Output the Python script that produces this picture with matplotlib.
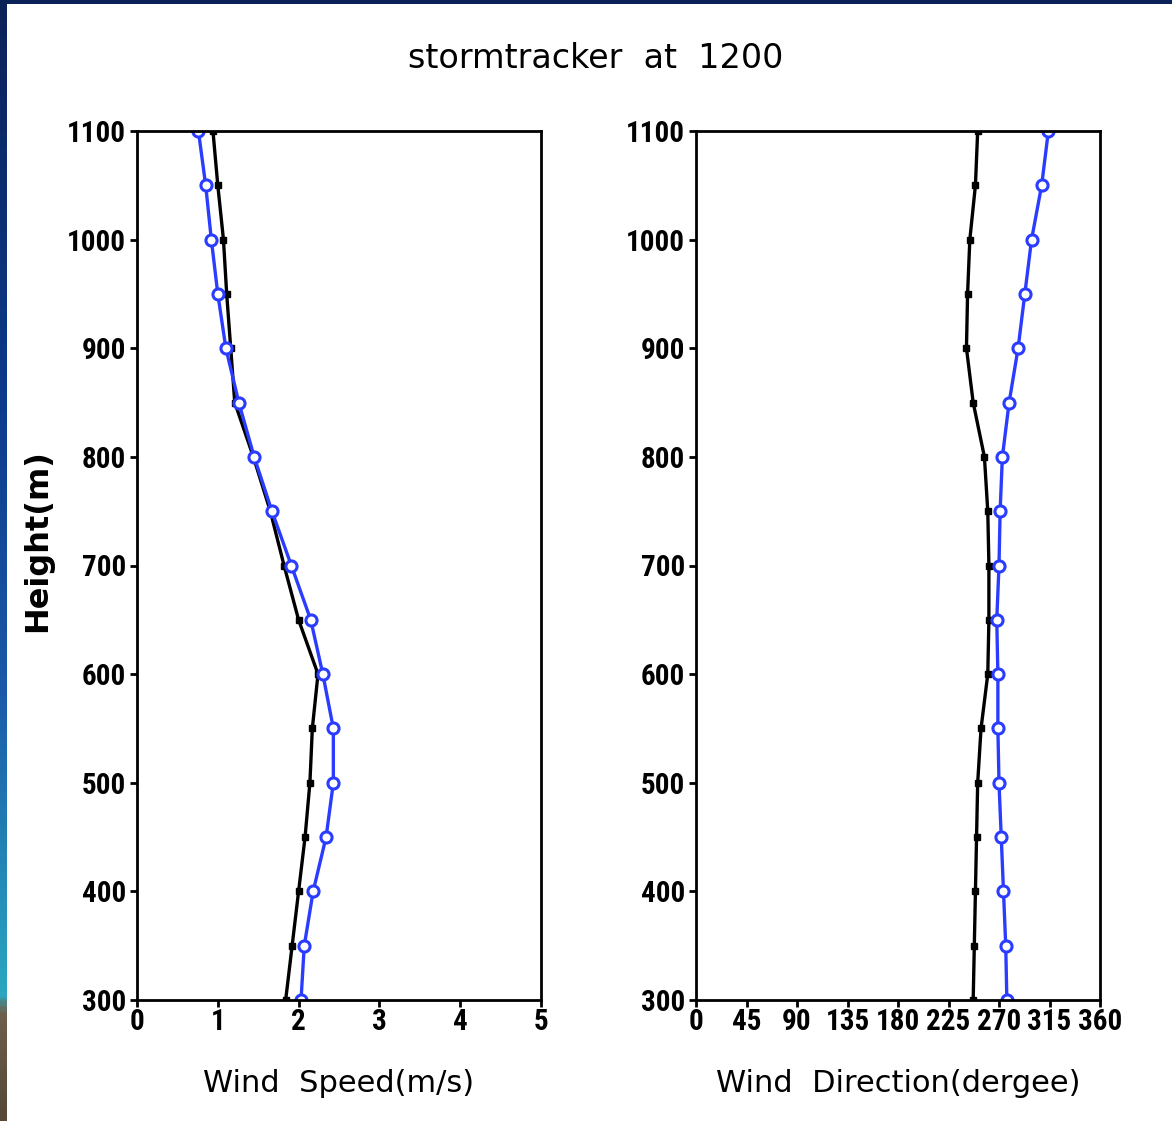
import numpy as np
import matplotlib
matplotlib.use("Agg")
import matplotlib.pyplot as plt
from matplotlib import font_manager
from matplotlib.colors import LinearSegmentedColormap

# heights (m) of the profile levels
heights = [300, 350, 400, 450, 500, 550, 600, 650, 700, 750, 800, 850, 900, 950, 1000, 1050, 1100]

# wind speed (m/s)
speed_black = [1.84, 1.92, 2.00, 2.08, 2.14, 2.17, 2.24, 2.00, 1.82, 1.65, 1.44, 1.21, 1.16, 1.11, 1.07, 1.00, 0.94]
speed_blue = [2.03, 2.07, 2.18, 2.34, 2.43, 2.43, 2.30, 2.15, 1.91, 1.67, 1.45, 1.26, 1.10, 1.00, 0.92, 0.85, 0.76]

# wind direction (degree)
dir_black = [247, 248, 249, 250, 251, 254, 260, 261, 261, 260, 257, 247, 241, 242, 244, 249, 251]
dir_blue = [277, 276, 274, 272, 270, 269, 269, 268, 270, 271, 273, 279, 287, 293, 299, 308, 314]

speed_ticks = [0, 1, 2, 3, 4, 5]
dir_ticks = [0, 45, 90, 135, 180, 225, 270, 315, 360]
height_ticks = [300, 400, 500, 600, 700, 800, 900, 1000, 1100]

# a narrow face suits the tall, tight tick labels of the original
names = {f.name for f in font_manager.fontManager.ttflist}
narrow = None
for cand in ["Roboto Condensed", "Liberation Sans Narrow", "Open Sans Condensed", "Arial Narrow"]:
    if cand in names:
        narrow = cand
        break
if narrow is None:
    narrow = "DejaVu Sans"
    tick_size = 16
else:
    tick_size = 21
label_font = ["DejaVu Sans"]

W, H = 1172, 1121
fig = plt.figure(figsize=(W / 100, H / 100), dpi=100)

# background frame: dark top band and coloured left strip
bg = fig.add_axes([0, 0, 1, 1], zorder=-5)
bg.axis("off")
bg.add_patch(plt.Rectangle((0, 0), W, 4, color="#0b2258", lw=0))
strip = LinearSegmentedColormap.from_list(
    "strip", [(0, "#0b2258"), (0.35, "#0d3a8a"), (0.62, "#1a5aa8"), (0.89, "#2aa8c0"),
              (0.905, "#6e604c"), (1, "#574837")])
grad = np.linspace(0, 1, 400).reshape(-1, 1)
bg.imshow(grad, cmap=strip, extent=(0, 7, H, 0), aspect="auto")
bg.set_xlim(0, W)
bg.set_ylim(H, 0)

blue = "#2a3cff"


def style_axes(ax, xticks, xlim, xlabel):
    ax.set_xlim(*xlim)
    ax.set_ylim(300, 1100)
    ax.set_xticks(xticks)
    ax.set_yticks(height_ticks)
    for s in ax.spines.values():
        s.set_linewidth(2.0)
    ax.tick_params(direction="out", length=5, width=2.0, top=False, right=False,
                   labelsize=tick_size)
    ax.tick_params(axis="y", pad=3)
    ax.tick_params(axis="x", pad=1)
    for lab in ax.get_xticklabels() + ax.get_yticklabels():
        lab.set_fontweight("bold")
        lab.set_family([narrow, "DejaVu Sans"])
    ax.set_xlabel(xlabel, fontsize=22, family=label_font, va="center")
    ax.xaxis.set_label_coords(0.5, (1000 - 1083) / 869)


ax1 = fig.add_axes([137 / W, 1 - 1000 / H, 404 / W, 869 / H])
ax1.plot(speed_black, heights, color="black", lw=2.4, marker="s", ms=5, mfc="black", mec="black")
ax1.plot(speed_blue, heights, color=blue, lw=2.4, marker="o", ms=8, mfc="white", mec=blue, mew=2.2)
style_axes(ax1, speed_ticks, (0, 5), "Wind  Speed(m/s)")
ax1.set_ylabel("Height(m)", fontsize=23, fontweight="bold", family=label_font, va="center")
ax1.yaxis.set_label_coords((38 - 137) / 404, (1000 - 541) / 869)

ax2 = fig.add_axes([696 / W, 1 - 1000 / H, 404 / W, 869 / H])
ax2.plot(dir_black, heights, color="black", lw=2.4, marker="s", ms=5, mfc="black", mec="black")
ax2.plot(dir_blue, heights, color=blue, lw=2.4, marker="o", ms=8, mfc="white", mec=blue, mew=2.2)
style_axes(ax2, dir_ticks, (0, 360), "Wind  Direction(dergee)")

fig.text(596 / W, 1 - 58 / H, "stormtracker  at  1200", ha="center", va="center",
         fontsize=24, family=label_font)

fig.savefig("out.png", dpi=100, facecolor="white")
